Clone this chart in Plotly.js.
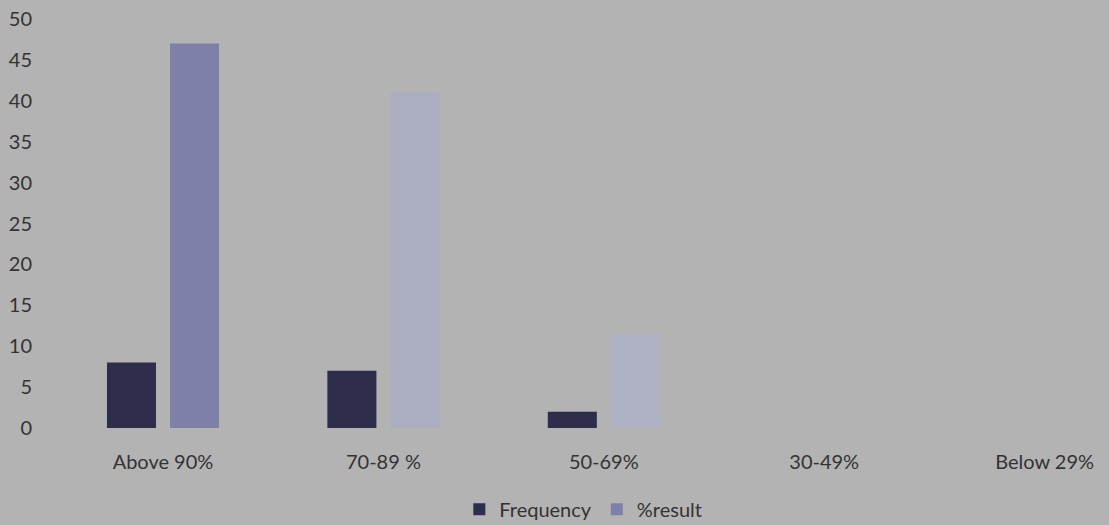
<!DOCTYPE html>
<html>
<head>
<meta charset="utf-8">
<script src="https://cdn.plot.ly/plotly-3.0.1.min.js"></script>
<style>html,body{margin:0;padding:0;background:#b3b3b3;}#chart{width:1109px;height:525px;}</style>
</head>
<body>
<div id="chart"></div>
<script>
const categories = ["Above 90%", "70-89 %", "50-69%", "30-49%", "Below 29%"];
const frequency = [8, 7, 2, 0, 0];
const percentResult = [47, 41, 11.5, 0, 0];
const yTicks = [0, 5, 10, 15, 20, 25, 30, 35, 40, 45, 50];

const data = [
  {
    type: "bar", name: "Frequency", x: categories, y: frequency,
    marker: {color: "#2e2d4c"}
  },
  {
    type: "bar", name: "%result", x: categories, y: percentResult,
    marker: {color: ["#7e80a8", "#abadc1", "#afb1c4", "#afb1c4", "#afb1c4"]}
  }
];

const layout = {
  width: 1109, height: 525,
  paper_bgcolor: "#b3b3b3", plot_bgcolor: "#b3b3b3",
  margin: {l: 42, r: 0, t: 19, b: 97, autoexpand: false},
  barmode: "group", bargap: 0.428, bargroupgap: 0.222,
  font: {family: "Lato, 'Open Sans', sans-serif", size: 20, color: "#333333"},
  xaxis: {
    type: "category", range: [-0.549, 4.292],
    showgrid: false, zeroline: false, showline: false, ticks: "",
    ticklabelstandoff: 20, automargin: false,
    tickfont: {size: 20, color: "#333333"}
  },
  yaxis: {
    range: [0, 50], tickvals: yTicks, ticktext: yTicks.map(String),
    showgrid: false, zeroline: false, showline: false, ticks: "",
    ticklabelstandoff: 9, automargin: false,
    tickfont: {size: 20, color: "#333333"}
  },
  showlegend: true,
  legend: {
    orientation: "h", xref: "container", yref: "container",
    x: 0.526, xanchor: "center", y: 0.03, yanchor: "middle",
    font: {size: 20, color: "#333333"}, bgcolor: "rgba(0,0,0,0)",
    traceorder: "normal"
  }
};

Plotly.newPlot("chart", data, layout, {displayModeBar: false, staticPlot: true});
</script>
</body>
</html>
